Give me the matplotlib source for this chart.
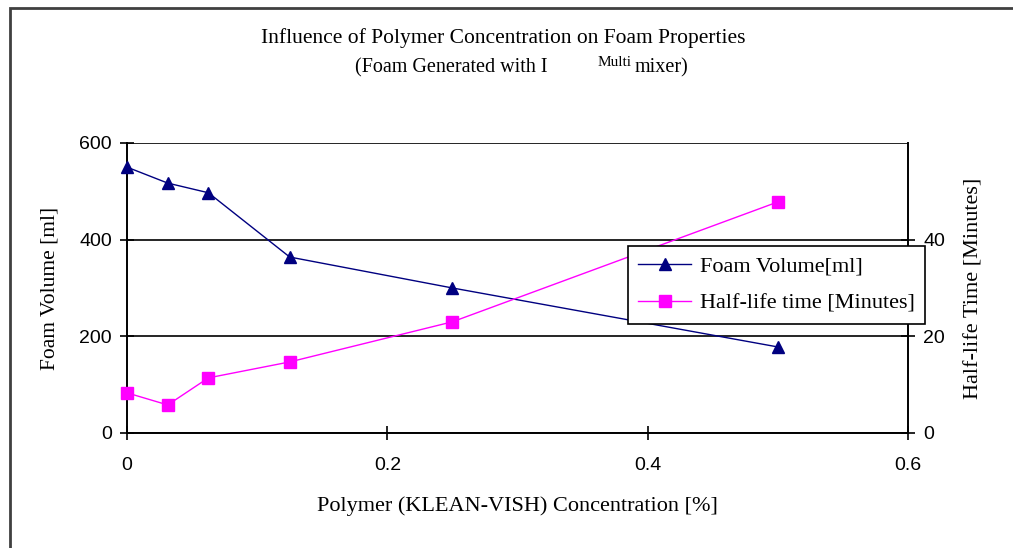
import matplotlib.pyplot as plt
from matplotlib.lines import Line2D
from matplotlib.patches import Rectangle

# polymer concentration [%]
conc = [0, 0.03125, 0.0625, 0.125, 0.25, 0.5]
foam_volume = [550, 517, 497, 364, 300, 178]
half_life = [8.3, 5.8, 11.4, 14.7, 23.0, 47.8]

x_ticks = [0, 0.2, 0.4, 0.6]
x_tick_labels = ["0", "0.2", "0.4", "0.6"]
left_ticks = [0, 200, 400, 600]
right_ticks = [0, 20, 40]

SERIF = "Liberation Serif"
SANS = "Liberation Sans"

fig = plt.figure(figsize=(10.13, 5.48), dpi=100)
ax = fig.add_axes([0.1254, 0.2099, 0.7709, 0.5292])
ax2 = ax.twinx()

ax.plot(conc, foam_volume, color="#000080", lw=1, marker="^", ms=8,
        label="Foam Volume[ml]", clip_on=False, zorder=3)
ax2.plot(conc, half_life, color="#ff00ff", lw=1, marker="s", ms=8,
         label="Half-life time [Minutes]", clip_on=False, zorder=3)

ax.set_xlim(0, 0.6)
ax.set_ylim(0, 600)
ax2.set_ylim(0, 60)
ax.set_xticks(x_ticks)
ax.set_xticklabels(x_tick_labels)
ax.set_yticks(left_ticks)
ax2.set_yticks(right_ticks)

for a in (ax, ax2):
    a.spines["top"].set_visible(False)
    a.tick_params(direction="inout", length=10, width=1.2, labelsize=14,
                  color="black", pad=6)
    for lab in a.get_xticklabels() + a.get_yticklabels():
        lab.set_fontfamily(SANS)
ax.tick_params(axis="x", pad=12)
ax2.spines["left"].set_visible(False)
ax2.spines["bottom"].set_visible(False)
ax.spines["right"].set_visible(False)
for s in ("left", "bottom"):
    ax.spines[s].set_linewidth(1.4)
ax2.spines["right"].set_linewidth(1.4)
ax.yaxis.grid(True, color="black", lw=1.2)
ax.set_axisbelow(True)

ax.set_ylabel("Foam Volume [ml]", fontfamily=SERIF, fontsize=15.5, labelpad=14)
ax2.set_ylabel("Half-life Time [Minutes]", fontfamily=SERIF, fontsize=16,
               labelpad=14, rotation=90)
ax.set_xlabel("Polymer (KLEAN-VISH) Concentration [%]", fontfamily=SERIF,
              fontsize=16, labelpad=16)

handles = [
    Line2D([], [], color="#000080", lw=1, marker="^", ms=8),
    Line2D([], [], color="#ff00ff", lw=1, marker="s", ms=8),
]
leg = fig.legend(handles, ["Foam Volume[ml]", "Half-life time [Minutes]"],
                 loc="upper left", bbox_to_anchor=(628 / 1013, 1 - 246 / 548),
                 frameon=True, fancybox=False, framealpha=1, edgecolor="black",
                 prop={"family": SERIF, "size": 16}, borderpad=0.45,
                 labelspacing=0.75, handlelength=2.4, handletextpad=0.4,
                 borderaxespad=0)
leg.get_frame().set_linewidth(1.2)
leg.set_zorder(10)

fig.text(0.497, 0.931, "Influence of Polymer Concentration on Foam Properties",
         ha="center", va="center", fontfamily=SERIF, fontsize=15.5)
fig.text(355 / 1013, 0.876, "(Foam Generated with I", ha="left", va="center",
         fontfamily=SERIF, fontsize=14.5)
fig.text(598 / 1013, 0.886, "Multi", ha="left", va="center",
         fontfamily=SERIF, fontsize=11)
fig.text(635 / 1013, 0.876, "mixer)", ha="left", va="center",
         fontfamily=SERIF, fontsize=14.5)

fig.patches.append(Rectangle((10 / 1013, -0.05), 1.2, 1 - 8 / 548 + 0.05,
                             transform=fig.transFigure, fill=False,
                             edgecolor="#404040", lw=2))

fig.savefig("out.png", dpi=100)
